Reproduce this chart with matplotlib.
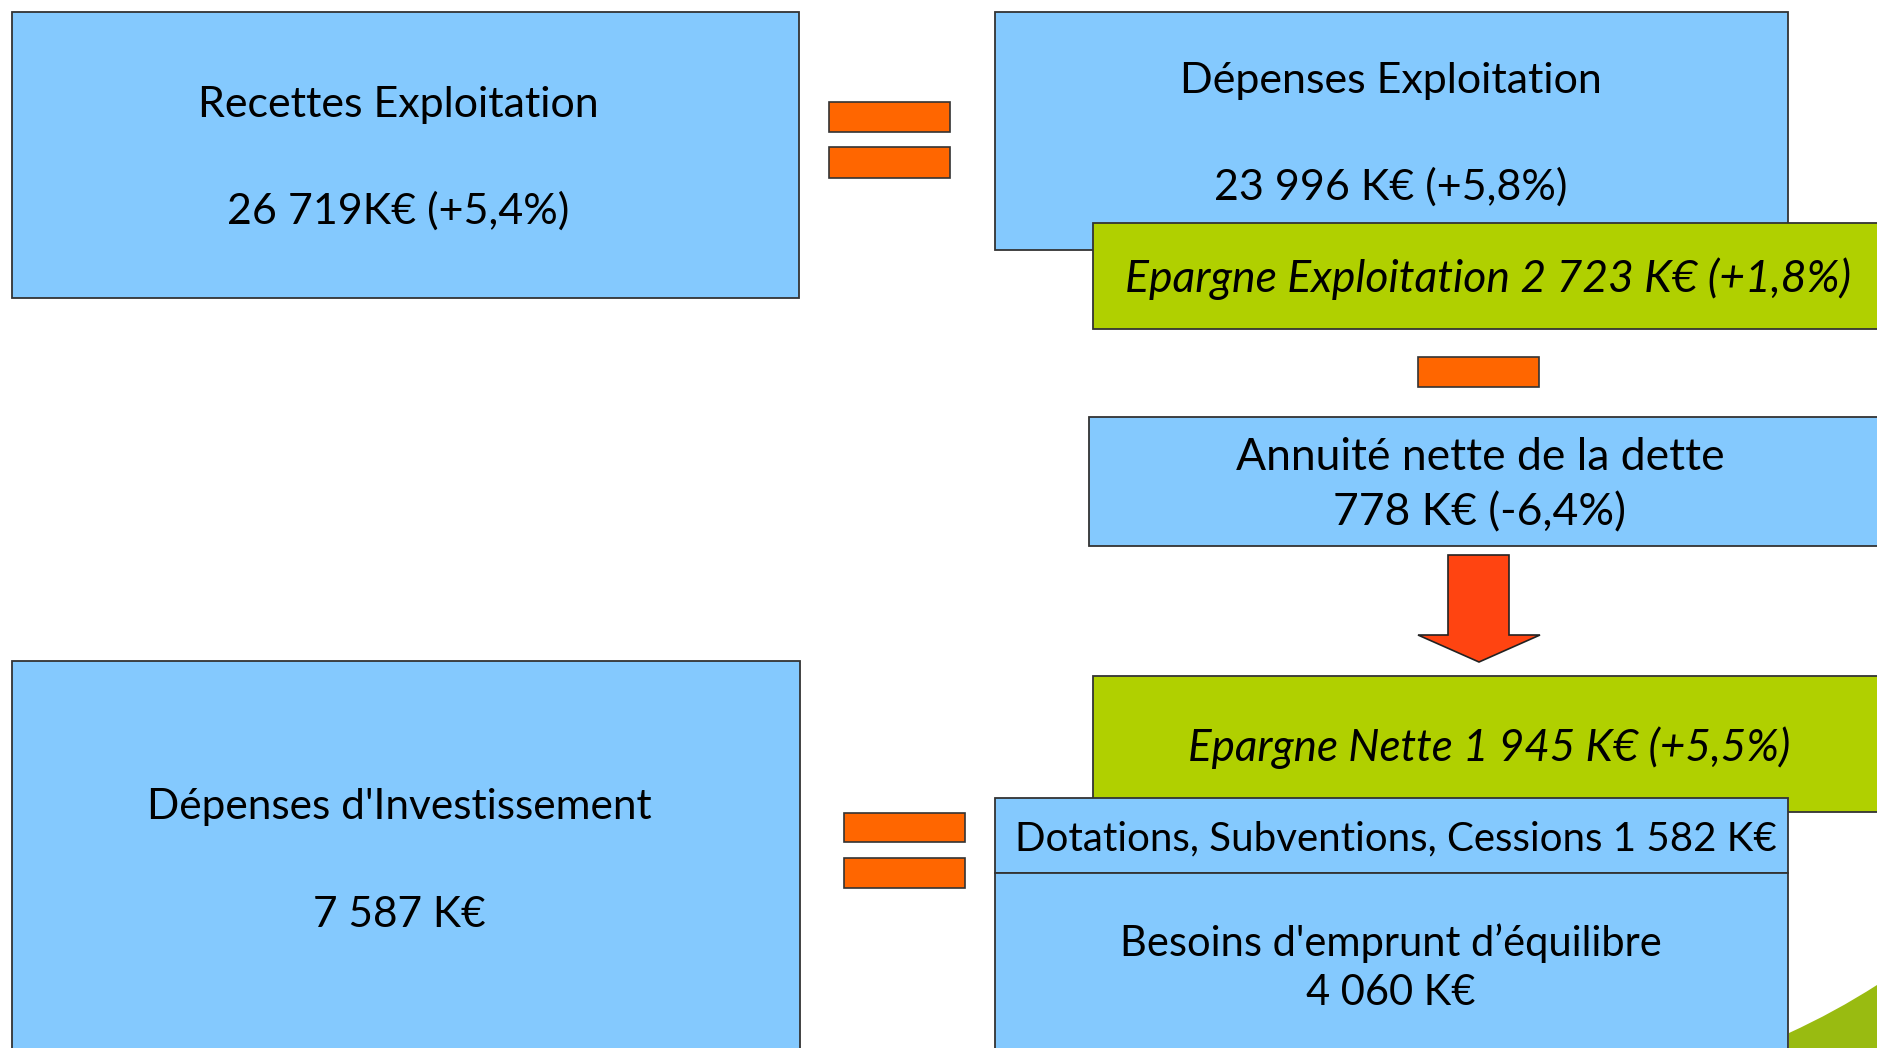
import matplotlib
matplotlib.use("Agg")
import matplotlib.pyplot as plt
from matplotlib.patches import Rectangle, Polygon, PathPatch
from matplotlib.path import Path

W, H = 1877, 1048
FONT = ["Lato", "DejaVu Sans"]

# ---- texts (content) ----
recettes_title = "Recettes Exploitation"
recettes_value = "26 719K€ (+5,4%)"
depenses_title = "Dépenses Exploitation"
depenses_value = "23 996 K€ (+5,8%)"
epargne_expl = "Epargne Exploitation 2 723 K€ (+1,8%)"
annuite_title = "Annuité nette de la dette"
annuite_value = "778 K€ (-6,4%)"
epargne_nette = "Epargne Nette 1 945 K€ (+5,5%)"
dotations = "Dotations, Subventions, Cessions 1 582 K€"
besoins_title = "Besoins d'emprunt d’équilibre"
besoins_value = "4 060 K€"
invest_title = "Dépenses d'Investissement"
invest_value = "7 587 K€"

BLUE = "#84C9FE"
GREEN = "#B0D000"
ORANGE = "#FF6600"
ARROW = "#FF4411"
EDGE = "#333333"

fig = plt.figure(figsize=(W / 100, H / 100), dpi=100)
ax = fig.add_axes([0, 0, 1, 1])
ax.set_xlim(0, W)
ax.set_ylim(H, 0)
ax.axis("off")


def box(x0, y0, x1, y1, color, z=1, lw=1.3):
    ax.add_patch(Rectangle((x0, y0), x1 - x0, y1 - y0, facecolor=color,
                           edgecolor=EDGE, linewidth=lw, zorder=z))


def txt(x, y, s, size=31, style="normal", z=10):
    ax.text(x, y + 3, s, ha="center", va="center", fontsize=size, family=FONT,
            style=style, color="black", zorder=z)


# green swoosh bottom-right
verts = [(1789, 1033), (1835, 1012), (1877, 985), (1877, 1048), (1789, 1048), (1789, 1033)]
codes = [Path.MOVETO, Path.CURVE3, Path.CURVE3, Path.LINETO, Path.LINETO, Path.CLOSEPOLY]
ax.add_patch(PathPatch(Path(verts, codes), facecolor="#99BB11", edgecolor="none", zorder=0))

# left boxes
box(12, 12, 799, 298, BLUE)
txt(398, 102, recettes_title, 31)
txt(398, 208, recettes_value, 31)

box(12, 661, 800, 1060, BLUE)
txt(399, 804, invest_title, 30.5)
txt(399, 912, invest_value, 30.5)

# equals signs
for (x0, x1, ys) in [(829, 950, [(102, 132), (147, 178)]),
                     (844, 965, [(813, 842), (858, 888)])]:
    for (y0, y1) in ys:
        box(x0, y0, x1, y1, ORANGE, z=2, lw=1.2)

# minus sign
box(1418, 357, 1539, 387, ORANGE, z=2, lw=1.2)

# right column
box(995, 12, 1788, 250, BLUE, z=1)
txt(1391, 78, depenses_title, 31)
txt(1391, 184, depenses_value, 31)

box(1093, 223, 1900, 329, GREEN, z=2)
txt(1488, 276, epargne_expl, 32, style="italic")

box(1089, 417, 1900, 546, BLUE, z=2)
txt(1480, 455, annuite_title, 32)
txt(1480, 510, annuite_value, 32)

# down arrow
arrow_pts = [(1448, 555), (1509, 555), (1509, 635), (1540, 635), (1479, 662),
             (1418, 635), (1448, 635)]
ax.add_patch(Polygon(arrow_pts, closed=True, facecolor=ARROW, edgecolor="#222222",
                     linewidth=1.2, zorder=2))

box(1093, 676, 1900, 812, GREEN, z=2)
txt(1489, 745, epargne_nette, 31.7, style="italic")

box(995, 798, 1788, 873, BLUE, z=3)
txt(1396, 836, dotations, 29)

box(995, 873, 1788, 1060, BLUE, z=3)
txt(1391, 940, besoins_title, 30)
txt(1391, 990, besoins_value, 30)

fig.savefig("out.png", dpi=100)
